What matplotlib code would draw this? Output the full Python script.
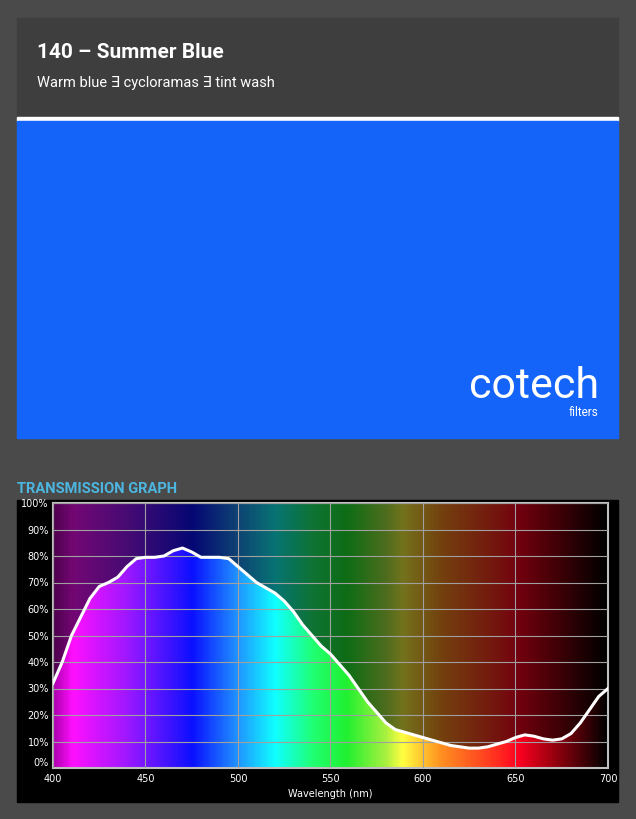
import numpy as np
import matplotlib
matplotlib.use("Agg")
import matplotlib.pyplot as plt
from matplotlib.colors import LinearSegmentedColormap
from matplotlib.patches import Rectangle

title = "140 – Summer Blue"
subtitle = "Warm blue ∃ cycloramas ∃ tint wash"
wavelength = [400,405,410,415,420,425,430,435,440,445,450,455,460,465,470,475,480,485,490,495,
              500,505,510,515,520,525,530,535,540,545,550,555,560,565,570,575,580,585,590,595,
              600,605,610,615,620,625,630,635,640,645,650,655,660,665,670,675,680,685,690,695,700]
transmission = [32,40,50,57,64,68.5,70,72,76,79,79.5,79.5,80,82,83,81.5,79.5,79.5,79.5,79,
                76,73,70,68,66,63,59,54,50,46,43,39,35,30,25,21,17,14.5,13.5,12.5,
                11.5,10.5,9.5,8.5,8,7.5,7.5,8,9,10,11.5,12.5,12,11,10.5,11,13,17,22,27,30]
x_ticks = [400,450,500,550,600,650,700]
y_ticks = list(range(0,101,10))
y_labels = [f"{v}%" for v in y_ticks]

W, H = 636, 819
fig = plt.figure(figsize=(W/100, H/100), dpi=100)
fig.patch.set_facecolor("#4a4a4a")
bg = fig.add_axes([0,0,1,1]); bg.set_xlim(0,W); bg.set_ylim(H,0); bg.axis("off")
bg.add_patch(Rectangle((17,18),601,100,color="#3e3e3e"))
bg.add_patch(Rectangle((17,117),601,4,color="white"))
bg.add_patch(Rectangle((17,121),601,317,color="#1464fa"))
bg.add_patch(Rectangle((17,500),601,302,color="black"))
bg.text(37,52,title,color="white",fontsize=15,fontweight="bold",family="Roboto",va="center")
bg.text(37,83,subtitle,color="white",fontsize=10.5,family=["Roboto","DejaVu Sans"],va="center")
bg.text(599,386,"cotech",color="white",fontsize=31,family="Roboto",ha="right",va="center")
bg.text(598,413,"filters",color="white",fontsize=8.5,family="Roboto",ha="right",va="center")
bg.text(17,489,"TRANSMISSION GRAPH",color="#4db6e0",fontsize=10.5,fontweight="bold",family="Roboto",va="center")
bg.text(330,794,"Wavelength (nm)",color="white",fontsize=7,ha="center",va="center")

ax = fig.add_axes([53/W, 1-768/H, 555/W, 265/H])
stops = [(0,"#b000b0"),(0.033,"#ff10ff"),(0.13,"#a018ff"),(0.25,"#0a10ff"),(0.33,"#2090ff"),
         (0.4,"#10ffff"),(0.47,"#20ff70"),(0.53,"#20f030"),(0.6,"#a8f040"),(0.63,"#ffff40"),
         (0.7,"#ff9020"),(0.8,"#ff3020"),(0.84,"#ff0020"),(0.9,"#a00010"),(1.0,"#000000")]
cmap = LinearSegmentedColormap.from_list("spec", stops)
grad = np.linspace(0,1,600)[None,:]
ax.imshow(grad, cmap=cmap, aspect="auto", extent=[400,700,0,100], zorder=0)
ax.fill_between(wavelength, transmission, 100, color="black", alpha=0.55, lw=0, zorder=1)
ax.plot(wavelength, transmission, color="white", lw=2.2, zorder=3)
ax.set_xlim(400,700); ax.set_ylim(0,100)
ax.set_xticks(x_ticks); ax.set_yticks(y_ticks); ax.set_yticklabels(y_labels)
ax.grid(True, color="#a0a0a0", lw=0.8, zorder=2)
ax.set_axisbelow(False)
ax.tick_params(colors="white", labelsize=7, length=0)
ax.tick_params(axis="x", pad=4)
ax.tick_params(axis="y", pad=3)
ax.get_yticklabels()[0].set_va("bottom")
for s in ax.spines.values():
    s.set_color("#c0c0c0"); s.set_linewidth(1.5)
fig.savefig("out.png", dpi=100, facecolor=fig.get_facecolor())
